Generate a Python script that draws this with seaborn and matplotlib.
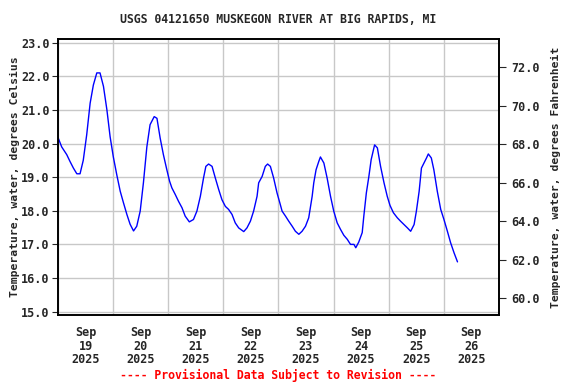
import pandas as pd
import matplotlib
matplotlib.use("Agg")
import matplotlib.pyplot as plt
import seaborn as sns

# hours after 2025-09-19 00:00 and water temperature (deg C)
hours = [0.0, 1.6, 3.8, 5.2, 6.7, 8.2, 9.6, 11.0, 12.5, 14.0, 15.4, 16.9, 18.3, 19.8,
         21.3, 22.7, 24.1, 25.6, 27.1, 28.5, 30.0, 31.4, 32.9, 34.3, 35.8, 37.2, 38.7,
         40.1, 41.9, 43.1, 44.5, 45.9, 47.4, 48.6, 49.6, 51.1, 52.5, 54.0, 55.4, 57.2,
         59.0, 60.5, 62.0, 63.4, 64.4, 65.6, 67.1, 68.5, 70.0, 71.4, 72.9, 74.3, 75.8,
         77.2, 78.7, 80.9, 82.3, 83.8, 85.2, 86.7, 87.4, 88.9, 90.3, 91.3, 92.5, 93.9,
         95.4, 96.6, 97.6, 99.1, 100.5, 102.0, 103.4, 104.9, 106.3, 107.8, 109.2, 110.7,
         111.4, 112.4, 113.6, 114.3, 115.8, 117.2, 118.7, 120.1, 121.6, 123.1, 124.5,
         126.0, 127.4, 128.9, 129.7, 131.0, 132.5, 133.2, 134.3, 135.4, 136.4, 137.9,
         139.1, 140.5, 142.0, 143.4, 144.6, 146.1, 147.8, 149.2, 150.7, 152.2, 153.6,
         155.1, 156.1, 157.3, 158.3, 159.4, 160.5, 161.3, 162.6, 163.7, 165.2, 166.7,
         168.1, 169.6, 171.0, 172.5, 174.0]
temp_c = [20.18, 19.9, 19.67, 19.47, 19.27, 19.1, 19.1, 19.5, 20.26, 21.2, 21.74, 22.1,
          22.1, 21.7, 21.0, 20.2, 19.6, 19.07, 18.58, 18.24, 17.89, 17.6, 17.4, 17.54,
          17.99, 18.83, 19.9, 20.56, 20.8, 20.75, 20.16, 19.67, 19.22, 18.88, 18.68,
          18.48, 18.28, 18.09, 17.84, 17.67, 17.74, 17.99, 18.43, 18.98, 19.32, 19.39,
          19.32, 18.98, 18.63, 18.33, 18.13, 18.04, 17.89, 17.64, 17.49, 17.38, 17.49,
          17.69, 17.99, 18.43, 18.83, 19.02, 19.32, 19.39, 19.32, 18.98, 18.53, 18.24,
          17.99, 17.84, 17.69, 17.54, 17.39, 17.3, 17.39, 17.54, 17.79, 18.43, 18.83,
          19.22, 19.47, 19.6, 19.42, 18.98, 18.43, 17.99, 17.64, 17.44, 17.27, 17.15,
          17.0, 17.0, 16.9, 17.07, 17.35, 17.84, 18.53, 19.02, 19.52, 19.96, 19.87,
          19.32, 18.83, 18.43, 18.16, 17.94, 17.79, 17.69, 17.59, 17.49, 17.39, 17.59,
          17.99, 18.58, 19.27, 19.42, 19.57, 19.69, 19.57, 19.22, 18.58, 18.04, 17.74,
          17.39, 17.05, 16.75, 16.48]

days = pd.date_range("2025-09-19", "2025-09-27", freq="D")
c_ticks = [15, 16, 17, 18, 19, 20, 21, 22, 23]
f_ticks = [60, 62, 64, 66, 68, 70, 72]

start = pd.Timestamp("2025-09-19")
df = pd.DataFrame({"time": start + pd.to_timedelta(hours, unit="h"), "temp": temp_c})

sns.set_style("white")
plt.rcParams["font.family"] = ["DejaVu Sans Mono"]
plt.rcParams["font.weight"] = "bold"

fig = plt.figure(figsize=(5.76, 3.84), dpi=100)
ax = fig.add_axes([0.1007, 0.1797, 0.7653, 0.718])

sns.lineplot(data=df, x="time", y="temp", ax=ax, color="#0000ff", linewidth=1.0)

ax.set_xlim(days[0], days[-1])
ax.set_ylim(14.9, 23.1)
ax.set_yticks(c_ticks)
ax.set_yticklabels([f"{v:.1f}" for v in c_ticks], fontsize=8.5, fontweight="bold")

# gridlines at midnight, labels at noon
ax.set_xticks(days, minor=True)
noon = days[:-1] + pd.Timedelta(hours=12)
ax.set_xticks(noon)
ax.set_xticklabels([f"{d:%b}\n{d.day}\n{d:%Y}" for d in noon], fontsize=8.5,
                   fontweight="bold", linespacing=1.05)
ax.tick_params(axis="x", which="both", length=0, pad=8)
ax.tick_params(axis="y", length=4, direction="out", left=True, pad=2)
ax.grid(True, which="minor", axis="x", color="#c8c8c8", linewidth=1)
ax.grid(True, which="major", axis="y", color="#c8c8c8", linewidth=1)
ax.grid(False, which="major", axis="x")
for s in ax.spines.values():
    s.set_color("black")
    s.set_linewidth(1.2)

ax.set_xlabel("")
ax.set_ylabel("Temperature, water, degrees Celsius", fontsize=8.2,
              fontweight="bold", labelpad=1)

ax2 = ax.twinx()
ax2.set_ylim(59.12, 73.44)
ax2.set_yticks(f_ticks)
ax2.set_yticklabels([f"{v:.1f}" for v in f_ticks], fontsize=8.5, fontweight="bold")
ax2.tick_params(axis="y", length=5, direction="out", right=True, pad=4)
ax2.set_ylabel("Temperature, water, degrees Fahrenheit", fontsize=8.2,
               fontweight="bold", labelpad=8)
ax2.grid(False)
for s in ax2.spines.values():
    s.set_color("black")
    s.set_linewidth(1.2)

fig.text(0.482, 0.95, "USGS 04121650 MUSKEGON RIVER AT BIG RAPIDS, MI",
         ha="center", va="center", fontsize=8.3, fontweight="bold")
fig.text(0.482, 0.023, "---- Provisional Data Subject to Revision ----",
         ha="center", va="center", fontsize=8.3, fontweight="bold", color="#ff0000")

fig.savefig("out.png", dpi=100)
